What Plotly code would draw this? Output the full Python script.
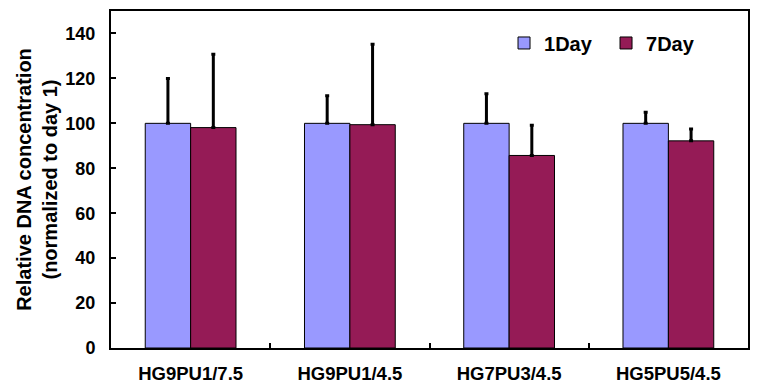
import plotly.graph_objects as go

categories = ["HG9PU1/7.5", "HG9PU1/4.5", "HG7PU3/4.5", "HG5PU5/4.5"]
day1 = [100, 100, 100, 100]
day1_err = [20, 12.3, 13.2, 4.9]
day7 = [98.1, 99.4, 85.7, 92.2]
day7_err = [32.7, 35.8, 13.4, 5.3]
yticks = [0, 20, 40, 60, 80, 100, 120, 140]

font_family = "Liberation Sans, Arial, sans-serif"

fig = go.Figure()
fig.add_trace(go.Bar(
    x=categories, y=day1, name="1Day",
    marker=dict(color="#9999FF", line=dict(color="#000000", width=1)),
    error_y=dict(type="data", array=day1_err, arrayminus=[0]*4, symmetric=False,
                 color="#000000", thickness=3, width=2),
))
fig.add_trace(go.Bar(
    x=categories, y=day7, name="7Day",
    marker=dict(color="#951B56", line=dict(color="#000000", width=1)),
    error_y=dict(type="data", array=day7_err, arrayminus=[0]*4, symmetric=False,
                 color="#000000", thickness=3, width=2),
))

fig.update_layout(
    width=758, height=390,
    margin=dict(l=111, r=10, t=11, b=42),
    paper_bgcolor="white", plot_bgcolor="white",
    barmode="group", bargap=0.43, bargroupgap=0,
    font=dict(family=font_family, color="#000000"),
    legend=dict(orientation="h", x=0.617, y=0.963, xanchor="left", yanchor="top",
                font=dict(size=20, family=font_family, weight="bold"),
                bgcolor="rgba(0,0,0,0)", entrywidth=57, entrywidthmode="pixels",
                traceorder="normal"),
    xaxis=dict(
        automargin=False,
        showline=True, linecolor="#000000", linewidth=2, mirror=True,
        ticks="inside", ticklen=5, tickwidth=2, tickcolor="#000000",
        tickson="boundaries",
        tickfont=dict(size=18.5, family=font_family, weight="bold"),
        ticklabelstandoff=8,
        showgrid=False,
    ),
    yaxis=dict(
        automargin=False,
        range=[0, 150], tickvals=yticks,
        showline=True, linecolor="#000000", linewidth=2, mirror=True,
        ticks="inside", ticklen=5, tickwidth=2, tickcolor="#000000",
        tickfont=dict(size=18, family=font_family, weight="bold"),
        ticklabelstandoff=10,
        showgrid=False, zeroline=False,
        title=dict(text="Relative DNA concentration<br>(normalized to day 1)",
                   font=dict(size=20, family=font_family, weight="bold"),
                   standoff=2),
    ),
)

fig.write_html("out.html", config={"displayModeBar": False},
               post_script="document.body.style.margin='0';document.body.style.overflow='hidden';")
